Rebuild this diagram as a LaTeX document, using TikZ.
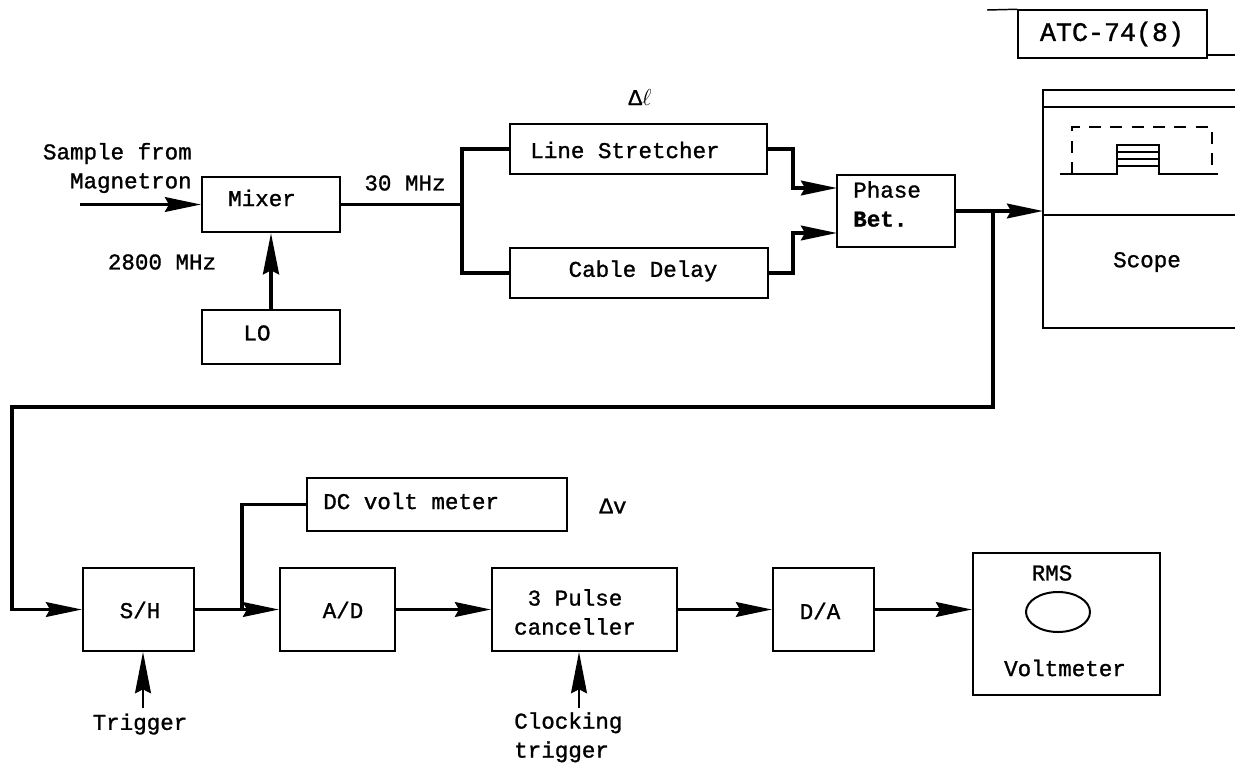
\documentclass[tikz,border=0pt]{standalone}
\usepackage{fontspec}
\newfontfamily\tw{Liberation Mono}[FakeBold=1.2]
\usetikzlibrary{arrows.meta,fit,calc,shapes.geometric}
\tikzset{
  box/.style={draw, line width=1.5pt, inner sep=0pt},
  thinbox/.style={draw, line width=1.1pt, inner sep=0pt},
  lbl/.style={font=\tw\fontsize{16.9}{21.75}\selectfont, inner sep=0pt},
  biglbl/.style={font=\tw\fontsize{20}{24}\selectfont, inner sep=0pt},
  conn/.style={line width=2.6pt},
  trigline/.style={line width=1.2pt},
  arr/.style={-{Stealth[length=27pt,width=11pt,inset=3pt]}},
  varr/.style={-{Stealth[length=31pt,width=12pt,inset=3pt]}},
  scopeline/.style={line width=1.5pt},
}
\begin{document}
\begin{tikzpicture}[x=0.75pt,y=-0.75pt]
\useasboundingbox (0,0) rectangle (1235,764);
\clip (0,0) rectangle (1235,764);

% ---------- upper row boxes ----------
\node[box, fit={(202,177) (340,232)}] (mixer) {};
\node[box, fit={(202,310) (340,364)}] (lo) {};
\node[box, fit={(510,124) (767,174)}] (ls) {};
\node[box, fit={(510,248) (768,298)}] (cd) {};
\node[box, fit={(837,175) (955,247)}] (pd) {};
\node[box, fit={(1043,90) (1260,328)}] (scope) {};
\node[box, fit={(1043,107) (1260,215)}] (screen) {};

% ATC tag
\node[thinbox, fit={(1018,10) (1207,58)}] (atc) {};
\coordinate (atcl) at (987,10);
\coordinate (atcr) at (1235,55);
\draw[line width=1.1pt] (atcl) -- (atc.north west);
\draw[line width=1.1pt] (atc.east |- atcr) -- (atcr);
\node[biglbl] (atctext) at (1112,34) {ATC-74(8)};

% ---------- upper texts ----------
\node[lbl, align=right, anchor=east] (sample) at (192,168) {Sample from\\Magnetron};
\node[lbl] (mixertext) at (262,198) {Mixer};
\node[lbl] (freq1) at (162,262) {2800 MHz};
\node[lbl] (lotext) at (257,333) {LO};
\node[lbl] (freq2) at (405,183) {30 MHz};
\node[lbl] (dl) at (640,97) {Δ$\ell$};
\node[lbl] (lstext) at (625,150) {Line Stretcher};
\node[lbl] (cdtext) at (643,271) {Cable Delay};
\node[lbl, align=left, anchor=west] (pdtext) at (853,204) {Phase\\\textbf{Bet.}};
\node[lbl] (scopetext) at (1147,262) {Scope};

% scope trace
\draw[scopeline, dashed, dash pattern=on 9pt off 7pt] (1072,174) -- (1072,127) -- (1212,127) -- (1212,174);
\draw[scopeline] (1060,174) -- (1117,174) -- (1117,145) -- (1159,145) -- (1159,174) -- (1218,174);
\draw[scopeline] (1117,152) -- (1159,152);
\draw[scopeline] (1117,159) -- (1159,159);
\draw[scopeline] (1117,166) -- (1159,166);

% ---------- upper connectors ----------
\coordinate (src) at (80,204.5);
\draw[conn,arr] (src) -- (mixer.west);
\draw[conn,varr] (lo.north) -- (mixer.south);
\coordinate (split) at (462,204.5);
\draw[conn] (mixer.east) -- (split);
\draw[conn] (ls.west) -| (split) |- (cd.west);
\coordinate (pdin1) at (837,188);
\coordinate (pdin2) at (837,233);
\draw[conn,arr] (ls.east) -- ++(25,0) |- (pdin1);
\draw[conn,arr] (cd.east) -- ++(24,0) |- (pdin2);
\coordinate (scopein) at (1043,211);
\draw[conn,arr] (pd.east) -- (scopein);

% ---------- lower row boxes ----------
\node[box, fit={(83,568) (194,651)}] (sh) {};
\node[box, fit={(280,568) (395,651)}] (ad) {};
\node[box, fit={(492,568) (677,651)}] (pc) {};
\node[box, fit={(773,568) (874,651)}] (da) {};
\node[box, fit={(973,553) (1160,695)}] (vm) {};
\node[box, fit={(307,478) (567,531)}] (dcv) {};
\node[draw, ellipse, line width=1.5pt, minimum width=48pt, minimum height=30pt, inner sep=0pt] (dial) at (1058,612) {};

% ---------- lower texts ----------
\node[lbl] (shtext) at (140,610) {S/H};
\node[lbl] (adtext) at (343,610) {A/D};
\node[lbl, anchor=west] (dcvtext) at (323,501) {DC volt meter};
\node[lbl] (dv) at (613,506) {Δv};
\node[lbl, align=center] (pctext) at (575,612) {3 Pulse\\canceller};
\node[lbl] (datext) at (820,611) {D/A};
\node[lbl] (rms) at (1052,573) {RMS};
\node[lbl] (vmtext) at (1065,668) {Voltmeter};
\node[lbl] (trig) at (140,724) {Trigger};
\node[lbl, align=left, anchor=north west] (clk) at (514,712) {Clocking\\trigger};

% ---------- lower connectors ----------
\coordinate (j1) at (993,211);
\coordinate (c1) at (993,407);
\coordinate (c2) at (12,407);
\draw[conn,arr] (j1) -- (c1) -- (c2) |- (sh.west);
\draw[conn,arr] (sh.east) -- (ad.west);
\coordinate (j2) at (242,609.5);
\draw[conn] (j2) |- (dcv.west);
\draw[conn,arr] (ad.east) -- (pc.west);
\draw[conn,arr] (pc.east) -- (da.west);
\draw[conn,arr] (da.east) -- (da.east -| vm.west);
\coordinate (trigs) at (143,708);
\draw[trigline,varr] (trigs) -- (trigs |- sh.south);
\coordinate (clks) at (579,708);
\draw[trigline,varr] (clks) -- (clks |- pc.south);
\end{tikzpicture}
\end{document}
